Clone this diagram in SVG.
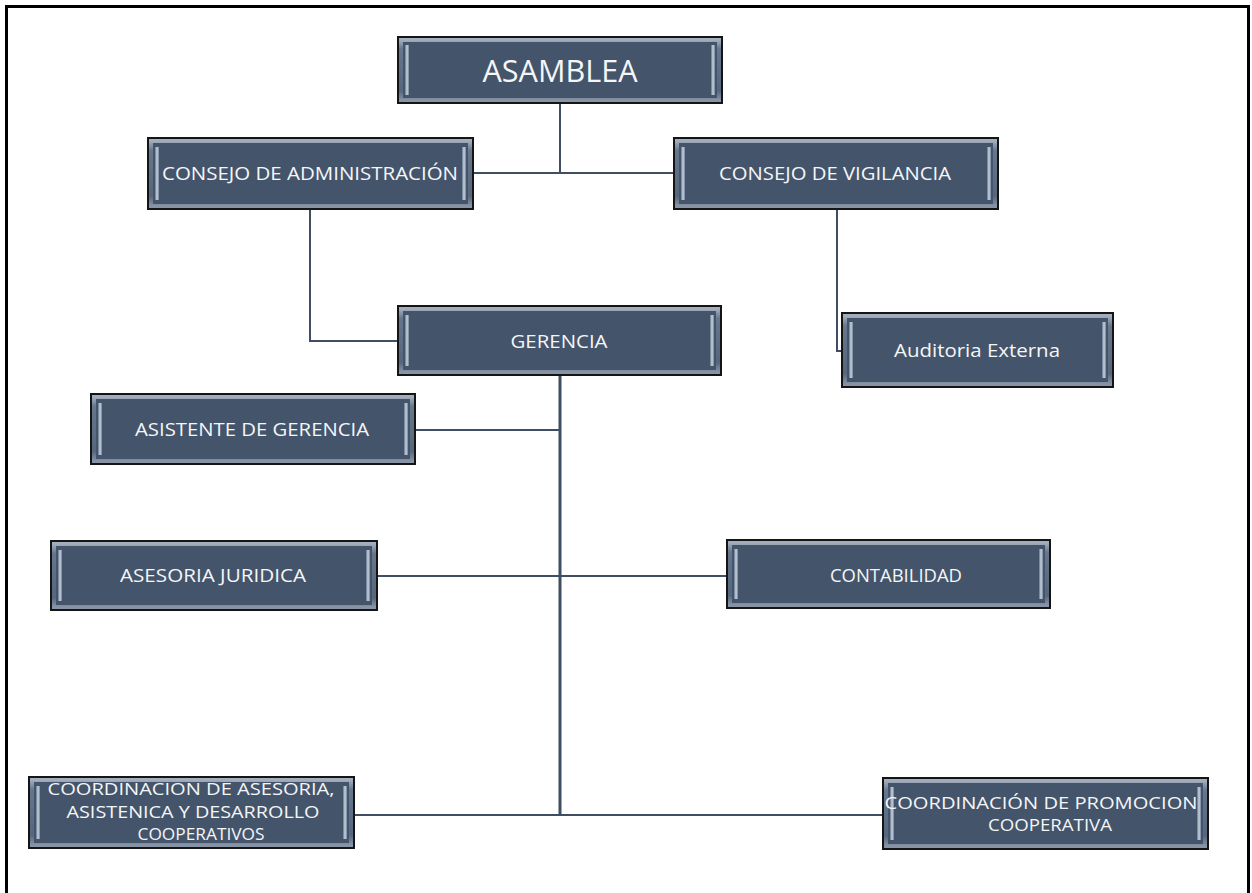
<svg xmlns="http://www.w3.org/2000/svg" width="1252" height="893" viewBox="0 0 1252 893">
<defs>
<linearGradient id="fr" x1="0" y1="0" x2="0" y2="1">
<stop offset="0" stop-color="#a3aebd"/>
<stop offset="0.15" stop-color="#66768c"/>
<stop offset="0.85" stop-color="#56667c"/>
<stop offset="1" stop-color="#8894a6"/>
</linearGradient>
<linearGradient id="hl" x1="0" y1="0" x2="1" y2="0">
<stop offset="0" stop-color="#63748c"/>
<stop offset="0.5" stop-color="#c9d4e0"/>
<stop offset="1" stop-color="#71829a"/>
</linearGradient>
</defs>
<style>
.outer{fill:#44546a;stroke:#151515;stroke-width:2}
.frame{fill:none;stroke:url(#fr);stroke-width:4}
.hl{fill:url(#hl)}
.t{font-family:"Open Sans","Liberation Sans",sans-serif;fill:#f4f6f8;text-anchor:middle}
.c{fill:none;stroke:#3f4e63;stroke-width:2}
.trunk{fill:none;stroke:#3f4e63;stroke-width:3}
</style>
<rect x="0" y="0" width="1252" height="893" fill="#ffffff"/>
<rect x="6.5" y="6.5" width="1242" height="892" fill="none" stroke="#000" stroke-width="3"/>

<g id="connectors">
<path class="c" d="M560,103 V173 M473,173 H674"/>
<path class="c" d="M310,209 V341 H398"/>
<path class="c" d="M837,209 V351 H842"/>
<path class="trunk" d="M560,375 V815"/>
<path class="c" d="M415,430 H560"/>
<path class="c" d="M377,576 H727"/>
<path class="c" d="M354,815 H883"/>
</g>

<g id="asamblea">
<rect class="outer" x="398" y="37" width="324" height="66"/>
<rect class="frame" x="401" y="40" width="318" height="60"/>
<rect class="hl" x="405" y="45" width="4" height="50"/>
<rect class="hl" x="711" y="45" width="4" height="50"/>
<text class="t" x="560" y="82" font-size="31" textLength="155" lengthAdjust="spacingAndGlyphs">ASAMBLEA</text>
</g>

<g id="consejo-admin">
<rect class="outer" x="148" y="138" width="325" height="71"/>
<rect class="frame" x="151" y="141" width="319" height="65"/>
<rect class="hl" x="155" y="147" width="4" height="53"/>
<rect class="hl" x="462" y="147" width="4" height="53"/>
<text class="t" x="310" y="180" font-size="19" textLength="296" lengthAdjust="spacingAndGlyphs">CONSEJO DE ADMINISTRACIÓN</text>
</g>

<g id="consejo-vigilancia">
<rect class="outer" x="674" y="138" width="324" height="71"/>
<rect class="frame" x="677" y="141" width="318" height="65"/>
<rect class="hl" x="681" y="147" width="4" height="53"/>
<rect class="hl" x="987" y="147" width="4" height="53"/>
<text class="t" x="835" y="180" font-size="18" textLength="232" lengthAdjust="spacingAndGlyphs">CONSEJO DE VIGILANCIA</text>
</g>

<g id="gerencia">
<rect class="outer" x="398" y="306" width="323" height="69"/>
<rect class="frame" x="401" y="309" width="317" height="63"/>
<rect class="hl" x="405" y="315" width="4" height="51"/>
<rect class="hl" x="710" y="315" width="4" height="51"/>
<text class="t" x="559" y="348" font-size="18" textLength="97" lengthAdjust="spacingAndGlyphs">GERENCIA</text>
</g>

<g id="auditoria">
<rect class="outer" x="842" y="313" width="271" height="74"/>
<rect class="frame" x="845" y="316" width="265" height="68"/>
<rect class="hl" x="849" y="322" width="4" height="56"/>
<rect class="hl" x="1102" y="322" width="4" height="56"/>
<text class="t" x="977" y="357" font-size="18" textLength="166" lengthAdjust="spacingAndGlyphs">Auditoria Externa</text>
</g>

<g id="asistente">
<rect class="outer" x="91" y="394" width="324" height="70"/>
<rect class="frame" x="94" y="397" width="318" height="64"/>
<rect class="hl" x="98" y="403" width="4" height="52"/>
<rect class="hl" x="404" y="403" width="4" height="52"/>
<text class="t" x="252" y="436" font-size="18" textLength="234" lengthAdjust="spacingAndGlyphs">ASISTENTE DE GERENCIA</text>
</g>

<g id="asesoria">
<rect class="outer" x="51" y="541" width="326" height="69"/>
<rect class="frame" x="54" y="544" width="320" height="63"/>
<rect class="hl" x="58" y="550" width="4" height="51"/>
<rect class="hl" x="366" y="550" width="4" height="51"/>
<text class="t" x="213" y="582" font-size="18" textLength="186" lengthAdjust="spacingAndGlyphs">ASESORIA JURIDICA</text>
</g>

<g id="contabilidad">
<rect class="outer" x="727" y="540" width="323" height="68"/>
<rect class="frame" x="730" y="543" width="317" height="62"/>
<rect class="hl" x="734" y="549" width="4" height="50"/>
<rect class="hl" x="1039" y="549" width="4" height="50"/>
<text class="t" x="896" y="582" font-size="18" textLength="132" lengthAdjust="spacingAndGlyphs">CONTABILIDAD</text>
</g>

<g id="coord-asesoria">
<rect class="outer" x="29" y="777" width="325" height="71"/>
<rect class="frame" x="32" y="780" width="319" height="65"/>
<rect class="hl" x="36" y="786" width="4" height="53"/>
<rect class="hl" x="343" y="786" width="4" height="53"/>
<text class="t" x="191" y="795" font-size="16" textLength="287" lengthAdjust="spacingAndGlyphs">COORDINACION DE ASESORIA,</text>
<text class="t" x="193" y="818" font-size="16" textLength="253" lengthAdjust="spacingAndGlyphs">ASISTENICA Y DESARROLLO</text>
<text class="t" x="201" y="840" font-size="16" textLength="127" lengthAdjust="spacingAndGlyphs">COOPERATIVOS</text>
</g>

<g id="coord-promocion">
<rect class="outer" x="883" y="778" width="325" height="71"/>
<rect class="frame" x="886" y="781" width="319" height="65"/>
<rect class="hl" x="890" y="787" width="4" height="53"/>
<rect class="hl" x="1197" y="787" width="4" height="53"/>
<text class="t" x="1041" y="809" font-size="16" textLength="313" lengthAdjust="spacingAndGlyphs">COORDINACIÓN DE PROMOCION</text>
<text class="t" x="1050" y="831" font-size="16" textLength="124" lengthAdjust="spacingAndGlyphs">COOPERATIVA</text>
</g>
</svg>
